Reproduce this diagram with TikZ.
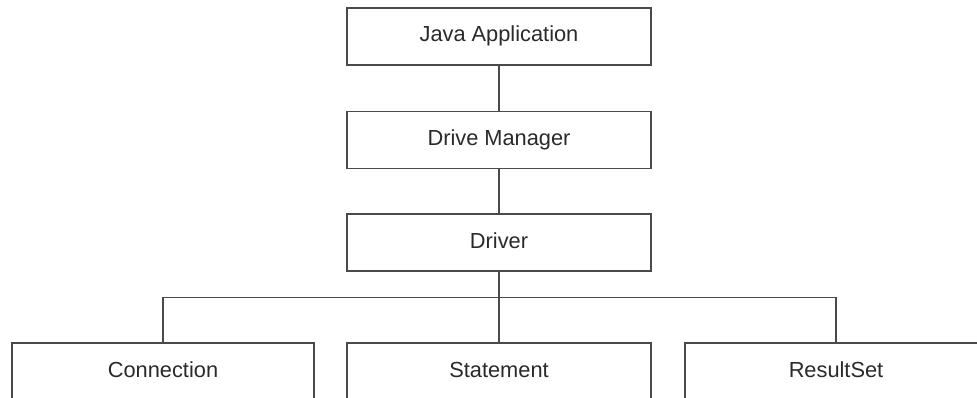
\documentclass[tikz,border=0pt]{standalone}
\usepackage{fontspec}
\setmainfont{Liberation Sans}
\definecolor{linegray}{HTML}{4A4A4A}
\definecolor{textgray}{HTML}{2A2A2A}
\begin{document}
\begin{tikzpicture}[x=1pt,y=-1pt,
  box/.style={draw=linegray, line width=1.7pt, fill=white,
    minimum width=304pt, minimum height=57pt, inner sep=0pt,
    text height=15.5pt, text depth=4.5pt,
    text=textgray, font=\fontsize{21.8}{24}\selectfont},
  link/.style={draw=linegray, line width=1.7pt}]
  \useasboundingbox (0,0) rectangle (977,398);
  \clip (0,0) rectangle (977,398);
  % JDBC layers
  \node[box] (japp) at (499,36.5)  {Java Application};
  \node[box] (dm)   at (499,140)   {Drive Manager};
  \node[box] (drv)  at (499,242.5) {Driver};
  % interfaces provided by the driver
  \node[box, minimum width=302pt] (conn) at (163,371.5) {Connection};
  \node[box] (stmt) at (499,371.5) {Statement};
  \node[box, minimum width=302pt] (rs) at (836,371.5) {ResultSet};
  \coordinate (bus) at (499,297.5);
  \draw[link] (japp.south) -- (dm.north);
  \draw[link] (dm.south) -- (drv.north);
  \draw[link] (drv.south) -- (stmt.north);
  \draw[link] (conn.north) |- (bus) -| (rs.north);
\end{tikzpicture}
\end{document}
